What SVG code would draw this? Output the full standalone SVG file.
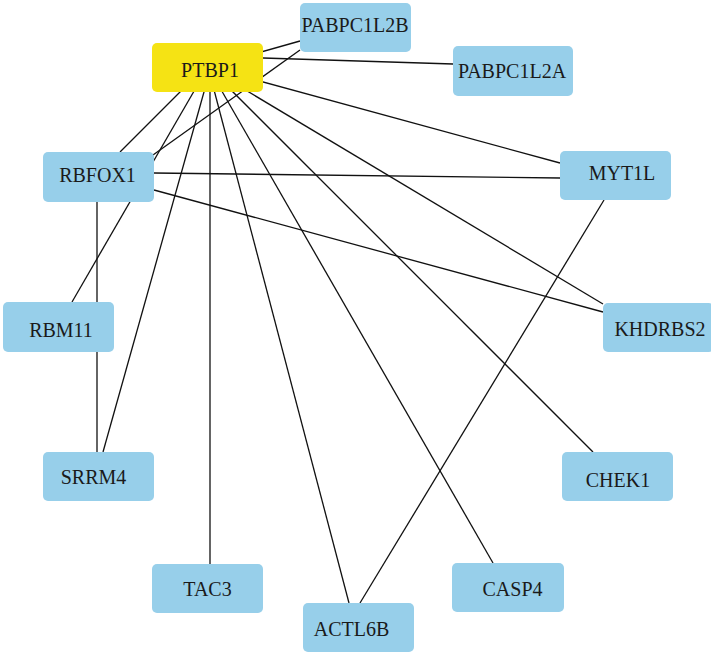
<svg xmlns="http://www.w3.org/2000/svg" width="711" height="654" viewBox="0 0 711 654">
<style>
.n{fill:#97CFEA;}
.y{fill:#F5E314;}
.t{font-family:"Liberation Serif","Times New Roman",serif;font-size:20px;fill:#1a1a1a;text-anchor:middle;}
.e line{stroke:#111;stroke-width:1.3;fill:none;}
</style>
<rect width="711" height="654" fill="#fff"/>
<g id="edges" class="e">
<line x1="208" y1="67" x2="300" y2="41"/>
<line x1="153" y1="155" x2="300" y2="50"/>
<line x1="263" y1="58" x2="453" y2="64"/>
<line x1="208" y1="67" x2="560" y2="163"/>
<line x1="207" y1="67" x2="603" y2="304"/>
<line x1="208" y1="67" x2="593" y2="452"/>
<line x1="208" y1="67" x2="493" y2="563"/>
<line x1="208" y1="67" x2="349" y2="603"/>
<line x1="210" y1="92" x2="210" y2="564"/>
<line x1="211" y1="67" x2="103" y2="452"/>
<line x1="208" y1="67" x2="72" y2="302"/>
<line x1="205" y1="67" x2="120" y2="152"/>
<line x1="154" y1="173" x2="560" y2="178"/>
<line x1="154" y1="190" x2="603" y2="312"/>
<line x1="97" y1="202" x2="97" y2="452"/>
<line x1="604" y1="200" x2="360" y2="603"/>
</g>
<g id="PTBP1"><rect class="y" x="152" y="43" width="111" height="49" rx="5"/><text class="t" x="210" y="77">PTBP1</text></g>
<g id="PABPC1L2B"><rect class="n" x="300" y="3" width="111" height="49" rx="5"/><text class="t" x="355" y="32">PABPC1L2B</text></g>
<g id="PABPC1L2A"><rect class="n" x="453" y="46" width="120" height="50" rx="5"/><text class="t" x="512" y="78">PABPC1L2A</text></g>
<g id="RBFOX1"><rect class="n" x="43" y="152" width="111" height="50" rx="5"/><text class="t" x="97.5" y="182">RBFOX1</text></g>
<g id="MYT1L"><rect class="n" x="560" y="151" width="111" height="49" rx="5"/><text class="t" x="622" y="180">MYT1L</text></g>
<g id="RBM11"><rect class="n" x="3" y="302" width="111" height="50" rx="5"/><text class="t" x="61" y="337">RBM11</text></g>
<g id="KHDRBS2"><rect class="n" x="603" y="303" width="111" height="49" rx="5"/><text class="t" x="660" y="336">KHDRBS2</text></g>
<g id="SRRM4"><rect class="n" x="43" y="452" width="111" height="49" rx="5"/><text class="t" x="93.5" y="484">SRRM4</text></g>
<g id="CHEK1"><rect class="n" x="562" y="452" width="111" height="49" rx="5"/><text class="t" x="618" y="487">CHEK1</text></g>
<g id="TAC3"><rect class="n" x="152" y="564" width="111" height="49" rx="5"/><text class="t" x="207.5" y="596">TAC3</text></g>
<g id="CASP4"><rect class="n" x="452" y="563" width="112" height="49" rx="5"/><text class="t" x="512.5" y="596">CASP4</text></g>
<g id="ACTL6B"><rect class="n" x="303" y="603" width="111" height="49" rx="5"/><text class="t" x="351.5" y="636">ACTL6B</text></g>
</svg>
